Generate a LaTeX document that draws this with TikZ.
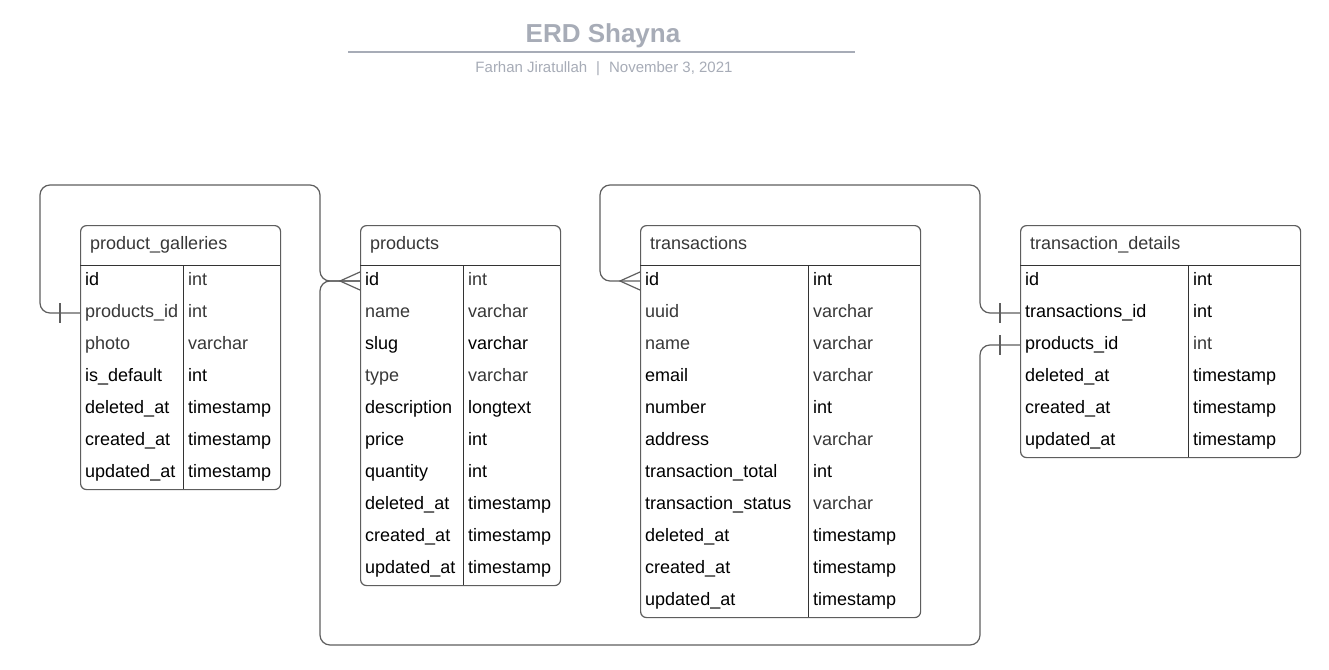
\documentclass[tikz,border=0pt]{standalone}
\usepackage{fontspec}
\setmainfont{Liberation Sans}
\definecolor{ttl}{HTML}{A7ACB7}
\definecolor{frm}{HTML}{5E5E5E}
\definecolor{sepc}{HTML}{333333}
\definecolor{k}{HTML}{000000}
\definecolor{g}{HTML}{383838}
\tikzset{
  tbl/.style={draw=frm, line width=1.2pt, rounded corners=6pt, inner sep=0pt, rectangle},
  sepline/.style={draw=sepc, line width=1pt},
  hdr/.style={anchor=base west, inner sep=0pt, text=g, font=\fontsize{18}{21}\selectfont},
  cell/.style={anchor=base west, inner sep=0pt, font=\fontsize{18}{21}\selectfont},
  conn/.style={draw=frm, line width=1.2pt},
  route/.style={conn, rounded corners=10pt}
}
% name, x, width, divider x (absolute), rows, title
\newcommand\erdtable[6]{%
  \node[tbl, minimum width=#3pt, minimum height={40pt+#5*32pt}, anchor=north west] (#1) at (#2,225) {};
  \draw[sepline] (#2,265) -- ({#2+#3},265);
  \draw[sepline] (#4,265) -- (#4,{265+#5*32});
  \node[hdr] (#1-title) at ({#2+10},249) {#6};
}
% table, row index, x, divider x, field colour, field, type colour, type
\newcommand\erdrow[8]{%
  \node[cell, text=#5] (#1-f#2) at ({#3+5},{253+32*#2}) {#6};
  \node[cell, text=#7] (#1-t#2) at ({#4+5},{253+32*#2}) {#8};
  \coordinate (#1-L#2) at (#3,{249+32*#2});
}
\begin{document}
\begin{tikzpicture}[x=1pt,y=-1pt]
\useasboundingbox[fill=white] (0,0) rectangle (1329,669);
% title block
\node[anchor=base, inner sep=0pt, text=ttl, font=\bfseries\fontsize{26}{30}\selectfont] (title) at (603,43) {ERD Shayna};
\coordinate (ruleL) at (348,52);
\coordinate (ruleR) at (855,52);
\draw[ttl, line width=2pt] (ruleL) -- (ruleR);
\node[anchor=base, inner sep=0pt, text=ttl, font=\fontsize{15}{18}\selectfont] (subtitle) at (604,73) {Farhan Jiratullah\hspace{9pt}|\hspace{9pt}November 3, 2021};

% product_galleries
\erdtable{pg}{80}{200}{183}{7}{product\_galleries}
\erdrow{pg}{1}{80}{183}{k}{id}{g}{int}
\erdrow{pg}{2}{80}{183}{g}{products\_id}{g}{int}
\erdrow{pg}{3}{80}{183}{g}{photo}{g}{varchar}
\erdrow{pg}{4}{80}{183}{k}{is\_default}{k}{int}
\erdrow{pg}{5}{80}{183}{k}{deleted\_at}{k}{timestamp}
\erdrow{pg}{6}{80}{183}{k}{created\_at}{k}{timestamp}
\erdrow{pg}{7}{80}{183}{k}{updated\_at}{k}{timestamp}

% products
\erdtable{pr}{360}{200}{463}{10}{products}
\erdrow{pr}{1}{360}{463}{k}{id}{g}{int}
\erdrow{pr}{2}{360}{463}{g}{name}{g}{varchar}
\erdrow{pr}{3}{360}{463}{k}{slug}{k}{varchar}
\erdrow{pr}{4}{360}{463}{g}{type}{g}{varchar}
\erdrow{pr}{5}{360}{463}{k}{description}{k}{longtext}
\erdrow{pr}{6}{360}{463}{k}{price}{k}{int}
\erdrow{pr}{7}{360}{463}{k}{quantity}{k}{int}
\erdrow{pr}{8}{360}{463}{k}{deleted\_at}{k}{timestamp}
\erdrow{pr}{9}{360}{463}{k}{created\_at}{k}{timestamp}
\erdrow{pr}{10}{360}{463}{k}{updated\_at}{k}{timestamp}

% transactions
\erdtable{tr}{640}{280}{808}{11}{transactions}
\erdrow{tr}{1}{640}{808}{k}{id}{k}{int}
\erdrow{tr}{2}{640}{808}{g}{uuid}{g}{varchar}
\erdrow{tr}{3}{640}{808}{g}{name}{g}{varchar}
\erdrow{tr}{4}{640}{808}{k}{email}{g}{varchar}
\erdrow{tr}{5}{640}{808}{k}{number}{k}{int}
\erdrow{tr}{6}{640}{808}{k}{address}{g}{varchar}
\erdrow{tr}{7}{640}{808}{k}{transaction\_total}{k}{int}
\erdrow{tr}{8}{640}{808}{k}{transaction\_status}{g}{varchar}
\erdrow{tr}{9}{640}{808}{k}{deleted\_at}{k}{timestamp}
\erdrow{tr}{10}{640}{808}{k}{created\_at}{k}{timestamp}
\erdrow{tr}{11}{640}{808}{k}{updated\_at}{k}{timestamp}

% transaction_details
\erdtable{td}{1020}{280}{1188}{6}{transaction\_details}
\erdrow{td}{1}{1020}{1188}{k}{id}{k}{int}
\erdrow{td}{2}{1020}{1188}{k}{transactions\_id}{k}{int}
\erdrow{td}{3}{1020}{1188}{k}{products\_id}{g}{int}
\erdrow{td}{4}{1020}{1188}{k}{deleted\_at}{k}{timestamp}
\erdrow{td}{5}{1020}{1188}{k}{created\_at}{k}{timestamp}
\erdrow{td}{6}{1020}{1188}{k}{updated\_at}{k}{timestamp}

% connectors
\draw[route] (pg-L2) -- ++(-40,0) |- (320,185) |- (pr-L1);
\draw[route] (td-L3) -- ++(-40,0) |- (320,645) |- (pr-L1);
\draw[route] (td-L2) -- ++(-40,0) |- (600,185) |- (tr-L1);

% one-bars
\draw[conn] ([xshift=-20pt]pg-L2) ++(0,-10) -- ++(0,20);
\draw[conn] ([xshift=-20pt]td-L2) ++(0,-10) -- ++(0,20);
\draw[conn] ([xshift=-20pt]td-L3) ++(0,-10) -- ++(0,20);
% crow's feet
\draw[conn] (pr-L1) ++(0,-9) -- ++(-20,9) -- ++(20,9);
\draw[conn] (tr-L1) ++(0,-9) -- ++(-20,9) -- ++(20,9);
\end{tikzpicture}
\end{document}
